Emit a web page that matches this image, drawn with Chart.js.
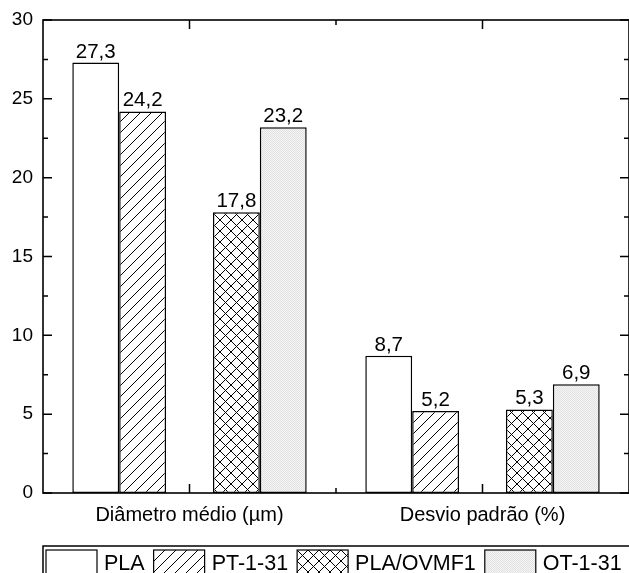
<!DOCTYPE html>
<html>
<head>
<meta charset="utf-8">
<script src="https://cdn.jsdelivr.net/npm/chart.js@4/dist/chart.umd.min.js"></script>
<style>
  html, body { margin: 0; padding: 0; background: #fff; overflow: hidden; }
  #wrap { width: 629px; height: 573px; }
</style>
</head>
<body>
<div id="wrap"><canvas id="c" width="629" height="573"></canvas></div>
<script>
// Measured quantities for each sample
const categories = ['Diâmetro médio (µm)', 'Desvio padrão (%)'];
const seriesNames = ['PLA', 'PT-1-31', 'PLA/OVMF1', 'OT-1-31'];
const plaValues = [27.3, 8.7];
const pt131Values = [24.2, 5.2];
const plaOvmf1Values = [17.8, 5.3];
const ot131Values = [23.2, 6.9];
const yTicks = [0, 5, 10, 15, 20, 25, 30];

const FONT = "'Liberation Sans', Arial, Helvetica, sans-serif";

// Fill patterns for the bars
function makePattern(size, draw) {
  const tile = document.createElement('canvas');
  tile.width = tile.height = size;
  const g = tile.getContext('2d');
  draw(g, size);
  return g.createPattern(tile, 'repeat');
}
function diagonal(g, s, back) {
  g.moveTo(-1, s + 1); g.lineTo(s + 1, -1);
  g.moveTo(-1, 1); g.lineTo(1, -1);
  g.moveTo(s - 1, s + 1); g.lineTo(s + 1, s - 1);
  if (back) {
    g.moveTo(-1, -1); g.lineTo(s + 1, s + 1);
    g.moveTo(s - 1, -1); g.lineTo(s + 1, 1);
    g.moveTo(-1, s - 1); g.lineTo(1, s + 1);
  }
}
const hatchFill = makePattern(11, (g, s) => {
  g.fillStyle = '#fff'; g.fillRect(0, 0, s, s);
  g.strokeStyle = '#000'; g.lineWidth = 1;
  g.beginPath(); diagonal(g, s, false); g.stroke();
});
const crossFill = makePattern(11, (g, s) => {
  g.fillStyle = '#fff'; g.fillRect(0, 0, s, s);
  g.strokeStyle = '#000'; g.lineWidth = 1;
  g.beginPath(); diagonal(g, s, true); g.stroke();
});
const dotFill = makePattern(2, (g, s) => {
  g.fillStyle = '#f4f4f4'; g.fillRect(0, 0, s, s);
  g.fillStyle = '#e2e2e2'; g.fillRect(0, 0, 1, 1); g.fillRect(1, 1, 1, 1);
});

const barStyle = { borderColor: '#000', borderWidth: 1.5, borderSkipped: false };

const datasets = [
  { label: seriesNames[0], data: plaValues, backgroundColor: '#fff', ...barStyle },
  { label: seriesNames[1], data: pt131Values, backgroundColor: hatchFill, ...barStyle },
  { label: '', data: [null, null], backgroundColor: 'rgba(0,0,0,0)', borderWidth: 0 },
  { label: seriesNames[2], data: plaOvmf1Values, backgroundColor: crossFill, ...barStyle },
  { label: seriesNames[3], data: ot131Values, backgroundColor: dotFill, ...barStyle }
];

// Value labels above each bar, decimal comma
const valueLabels = {
  id: 'valueLabels',
  afterDatasetsDraw(chart) {
    const ctx = chart.ctx;
    ctx.save();
    ctx.font = '20.5px ' + FONT;
    ctx.fillStyle = '#000';
    ctx.textAlign = 'center';
    ctx.textBaseline = 'alphabetic';
    chart.data.datasets.forEach((ds, di) => {
      if (!ds.label) return;
      chart.getDatasetMeta(di).data.forEach((bar, i) => {
        const v = ds.data[i];
        if (v == null) return;
        ctx.fillText(v.toFixed(1).replace('.', ','), bar.x, bar.y - 5);
      });
    });
    ctx.restore();
  }
};

// Box frame with inward ticks on all four sides
const frame = {
  id: 'frame',
  afterDraw(chart) {
    const { ctx, chartArea: a, scales: { x, y } } = chart;
    ctx.save();
    ctx.strokeStyle = '#000';
    ctx.lineWidth = 1.6;
    ctx.strokeRect(a.left, a.top, a.right - a.left, a.bottom - a.top);
    ctx.lineWidth = 1.5;
    ctx.beginPath();
    for (let v = 0; v <= 30; v += 2.5) {
      const py = y.getPixelForValue(v);
      const len = (v % 5 === 0) ? 9 : 5;
      ctx.moveTo(a.left, py); ctx.lineTo(a.left + len, py);
      ctx.moveTo(a.right, py); ctx.lineTo(a.right - len, py);
    }
    const centers = categories.map((c, i) => x.getPixelForValue(i));
    centers.forEach(px => {
      ctx.moveTo(px, a.bottom); ctx.lineTo(px, a.bottom - 9);
      ctx.moveTo(px, a.top); ctx.lineTo(px, a.top + 9);
    });
    for (let i = 0; i < centers.length - 1; i++) {
      const px = (centers[i] + centers[i + 1]) / 2;
      ctx.moveTo(px, a.bottom); ctx.lineTo(px, a.bottom - 5);
      ctx.moveTo(px, a.top); ctx.lineTo(px, a.top + 5);
    }
    ctx.stroke();
    ctx.restore();
  }
};

// Boxed legend row below the axis
const boxedLegend = {
  id: 'boxedLegend',
  afterDraw(chart) {
    const ctx = chart.ctx;
    const a = chart.chartArea;
    const top = 546;
    ctx.save();
    ctx.strokeStyle = '#000';
    ctx.lineWidth = 1.5;
    ctx.strokeRect(a.left, top, chart.width - a.left + 10, 60);
    ctx.font = '21.5px ' + FONT;
    ctx.textBaseline = 'alphabetic';
    ctx.textAlign = 'left';
    let cx = a.left + 3;
    chart.data.datasets.forEach(ds => {
      if (!ds.label) return;
      ctx.fillStyle = ds.backgroundColor;
      ctx.fillRect(cx, top + 4, 51, 40);
      ctx.lineWidth = 1.2;
      ctx.strokeRect(cx, top + 4, 51, 40);
      ctx.fillStyle = '#000';
      ctx.fillText(ds.label, cx + 58, top + 24);
      cx += 58 + ctx.measureText(ds.label).width + 9;
    });
    ctx.restore();
  }
};

new Chart(document.getElementById('c'), {
  type: 'bar',
  data: { labels: categories, datasets },
  options: {
    responsive: false,
    animation: false,
    devicePixelRatio: 1,
    layout: { padding: { top: 20, right: 0, left: 0, bottom: 0 } },
    plugins: { legend: { display: false }, tooltip: { enabled: false } },
    datasets: { bar: { categoryPercentage: 0.8, barPercentage: 1.0 } },
    scales: {
      x: {
        offset: true,
        grid: { display: false },
        border: { display: false },
        ticks: { color: '#000', font: { family: FONT, size: 20 }, padding: 2, maxRotation: 0 },
        afterFit(s) { s.height = 80; }
      },
      y: {
        min: 0, max: 30,
        grid: { display: false },
        border: { display: false },
        afterBuildTicks(s) { s.ticks = yTicks.map(v => ({ value: v })); },
        ticks: { color: '#000', font: { family: FONT, size: 19 }, padding: 2 },
        afterFit(s) { s.width = 43; }
      }
    }
  },
  plugins: [valueLabels, frame, boxedLegend]
});
</script>
</body>
</html>
